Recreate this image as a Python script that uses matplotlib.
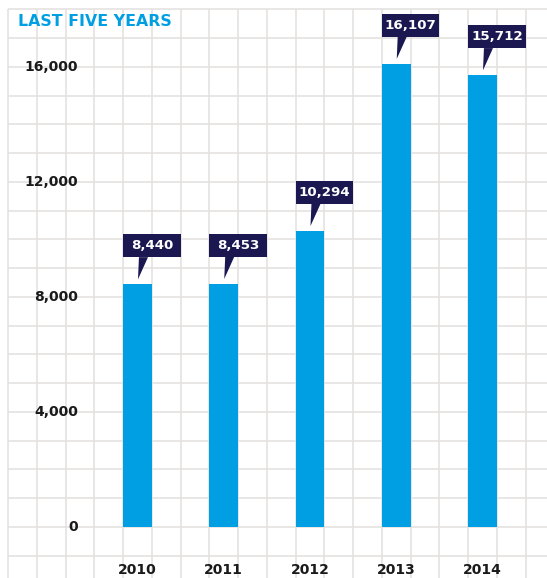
import matplotlib.pyplot as plt
from matplotlib.patches import Rectangle, Polygon

years = ["2010", "2011", "2012", "2013", "2014"]
values = [8440, 8453, 10294, 16107, 15712]
y_ticks = [0, 4000, 8000, 12000, 16000]

blue = "#009FE3"
navy = "#1B1851"
grid_color = "#E3E0DE"
text_color = "#1A1A1A"

plt.rcParams["font.family"] = ["DejaVu Sans"]

fig = plt.figure(figsize=(5.47, 5.78), dpi=100)
ax = fig.add_axes([0, 0, 1, 1])
ax.set_xlim(-1.594, 4.748)
ax.set_ylim(-1774, 18330)
ax.axis("off")

# graph-paper grid: cells are a third of a bar slot wide and 1,000 units high
step_x = 1 / 3
grid_x = [-1.5 + k * step_x for k in range(20)]
grid_y = list(range(-1000, 18001, 1000))
ax.vlines(grid_x, -3000, 18000, color=grid_color, lw=1.1, zorder=0)
ax.hlines(grid_y, -1.5, 5, color=grid_color, lw=1.1, zorder=0)

x = range(len(years))
ax.bar(x, values, width=step_x, color=blue, zorder=2)

# value callouts above each bar
for i, v in enumerate(values):
    left = i - step_x / 2
    box_bottom = v + 940
    ax.add_patch(Rectangle((left, box_bottom), 2 * step_x, 800,
                           facecolor=navy, edgecolor="none", zorder=3))
    ax.add_patch(Polygon([(i + 0.017, box_bottom + 5), (i + 0.122, box_bottom + 5),
                          (i + 0.006, v + 175)],
                         closed=True, facecolor=navy, edgecolor="none", zorder=3))
    ax.text(left + step_x, box_bottom + 400, f"{v:,}", color="white",
            fontsize=9.6, fontweight="bold", ha="center", va="center", zorder=4)

for t in y_ticks:
    ax.text(-0.69, t, f"{t:,}", color=text_color, fontsize=10,
            fontweight="bold", ha="right", va="center")

for i, yr in enumerate(years):
    ax.text(i, -1500, yr, color=text_color, fontsize=10,
            fontweight="bold", ha="center", va="center")

fig.text(18 / 547, 1 - 22 / 578, "LAST FIVE YEARS", color=blue, fontsize=11.3,
         fontweight="bold", ha="left", va="center")

fig.savefig("out.png", dpi=100)
